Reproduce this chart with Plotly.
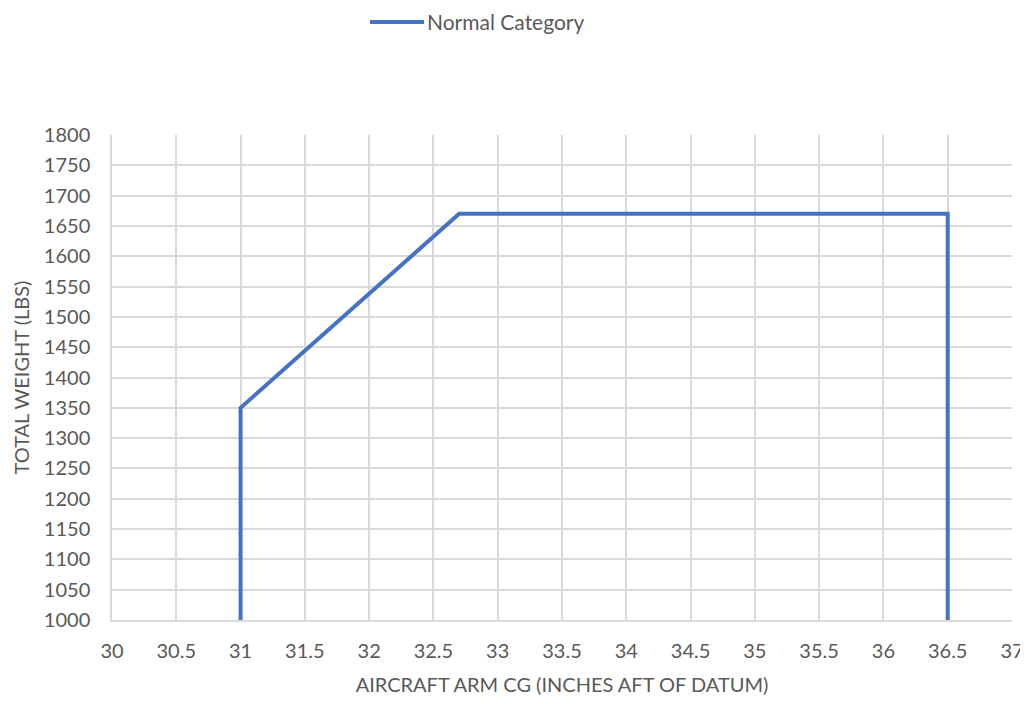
import plotly.graph_objects as go

arm_cg = [31, 31, 32.7, 36.5, 36.5]
total_weight = [1000, 1350, 1670, 1670, 1000]
series_name = "Normal Category"
x_ticks = [30, 30.5, 31, 31.5, 32, 32.5, 33, 33.5, 34, 34.5, 35, 35.5, 36, 36.5, 37]
y_ticks = list(range(1000, 1801, 50))

font_family = "Lato, Open Sans, sans-serif"
gray = "#595959"
grid = "#d9d9d9"
blue = "#4472C4"

W, H = 1020, 688
ML, MR, MT, MB = 104, 16, 127, 76
PW, PH = W - ML - MR, H - MT - MB


def px_to_paper_x(px):
    return (px - ML) / PW


def px_to_paper_y(py):
    return (H - MB - py) / PH


fig = go.Figure()
fig.add_trace(go.Scatter(
    x=arm_cg, y=total_weight, mode="lines", name=series_name,
    line=dict(color=blue, width=4), showlegend=False,
))

# legend drawn as line sample + text
leg_y = px_to_paper_y(14)
fig.add_shape(type="line", xref="paper", yref="paper",
              x0=px_to_paper_x(362), x1=px_to_paper_x(416), y0=leg_y, y1=leg_y,
              line=dict(color=blue, width=4))
fig.add_annotation(text=series_name, xref="paper", yref="paper",
                   x=px_to_paper_x(418), y=leg_y, xanchor="left", yanchor="middle",
                   showarrow=False, borderpad=0,
                   font=dict(size=21, color=gray, family=font_family))

fig.update_layout(
    width=W, height=H,
    margin=dict(l=ML, r=MR, t=MT, b=MB, autoexpand=False),
    paper_bgcolor="white", plot_bgcolor="white",
    font=dict(family=font_family, color=gray, size=20),
    showlegend=False,
    xaxis=dict(
        range=[30, 37], tickmode="array", tickvals=x_ticks,
        ticktext=[f"{v:g}" for v in x_ticks],
        showgrid=True, gridcolor=grid, gridwidth=1.5,
        showline=True, linecolor=grid, linewidth=1.5, zeroline=False,
        ticks="", ticklen=0, automargin=False, ticklabelstandoff=12,
        ticklabeloverflow="allow",
        title=dict(text="AIRCRAFT ARM CG (INCHES AFT OF DATUM)", font=dict(size=20, color=gray), standoff=23),
        tickfont=dict(size=20, color=gray),
    ),
    yaxis=dict(
        range=[1000, 1800], tickmode="array", tickvals=y_ticks,
        showgrid=True, gridcolor=grid, gridwidth=1.5,
        showline=True, linecolor=grid, linewidth=1.5, zeroline=False,
        ticks="", automargin=False, ticklabelstandoff=16,
        title=dict(text="TOTAL WEIGHT (LBS)", font=dict(size=20, color=gray), standoff=9),
        tickfont=dict(size=20, color=gray),
    ),
)

fig.write_html("out.html")
